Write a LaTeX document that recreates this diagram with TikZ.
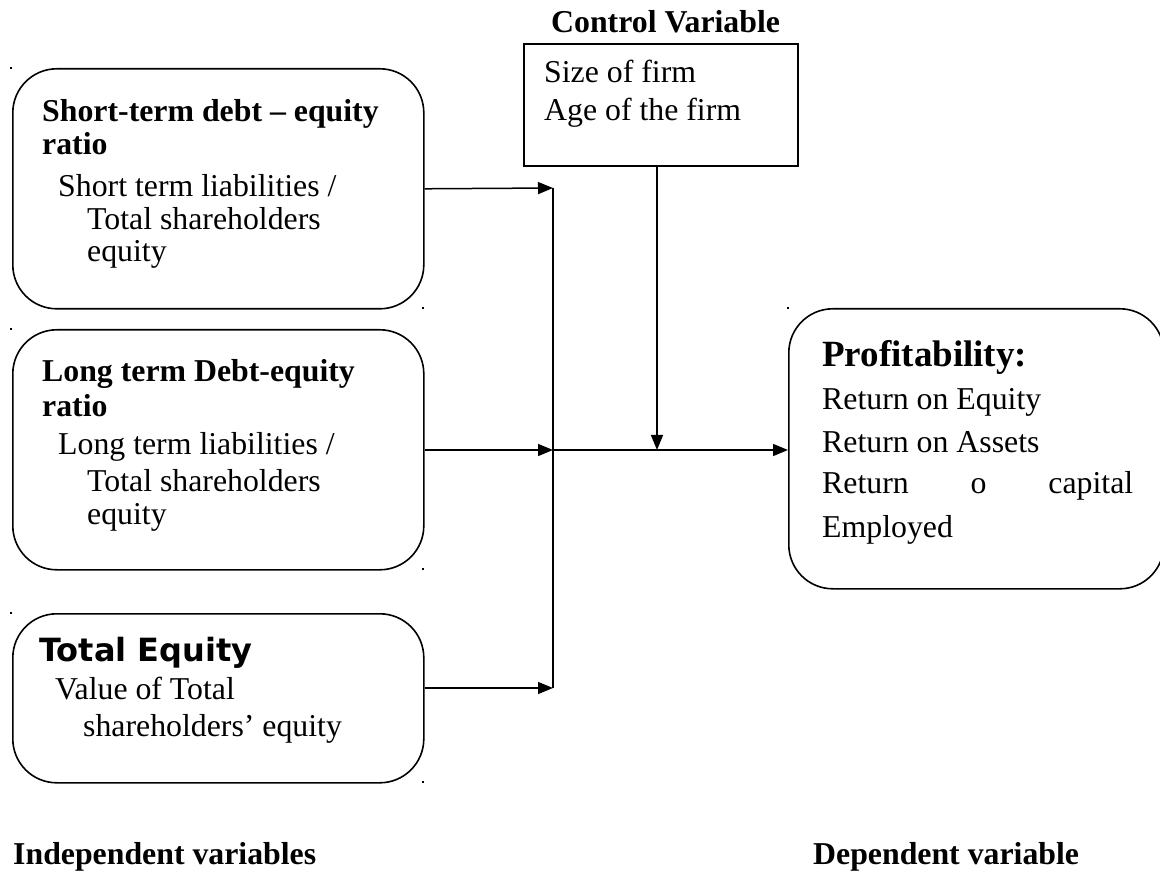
\documentclass[tikz,border=0pt]{standalone}
\usepackage{fontspec}
\setmainfont{Liberation Serif}
\newfontfamily\djv{DejaVu Sans}
\usetikzlibrary{arrows.meta}
\begin{document}
\begin{tikzpicture}[x=1pt,y=-1pt,
  box/.style={draw, line width=1.6pt, rounded corners=44pt, anchor=north west, inner sep=0pt},
  sqbox/.style={draw, line width=1.6pt, anchor=north west, inner sep=0pt},
  txt/.style={anchor=base west, inner sep=0pt, font=\fontsize{31.8}{33}\selectfont},
  hd/.style={anchor=base west, inner sep=0pt, font=\fontsize{31.8}{33}\selectfont\bfseries},
  arr/.style={line width=1.5pt, -{Triangle[length=15pt,width=12pt]}},
  ln/.style={line width=1.5pt}]
\useasboundingbox (0,0) rectangle (1160,874);
\clip (0,0) rectangle (1160,874);

% boxes
\node[box, minimum width=411pt, minimum height=240pt] (b1) at (12,68) {};
\node[box, minimum width=411pt, minimum height=240pt] (b2) at (12,329) {};
\node[box, minimum width=411pt, minimum height=169pt] (b3) at (12,613) {};
\node[sqbox, minimum width=274pt, minimum height=122pt] (ctrl) at (523,43) {};
\node[box, minimum width=375pt, minimum height=280pt] (pr) at (788,308) {};

% tiny marks
\foreach \p in {(11,68),(423,308),(11,329),(423,569),(11,613),(423,782),(788,308)}
  \fill \p ++(-1,-1) rectangle ++(2,2);

% box 1 text
\node[hd] (t11) at (42,122) {Short-term debt -- equity};
\node[hd] (t12) at (42,155) {ratio};
\node[txt] (t13) at (58,197) {Short term liabilities /};
\node[txt] (t14) at (87,230) {Total shareholders};
\node[txt] (t15) at (87,262) {equity};

% box 2 text
\node[hd] (t21) at (42,382) {Long term Debt-equity};
\node[hd] (t22) at (42,417) {ratio};
\node[txt] (t23) at (58,455) {Long term liabilities /};
\node[txt] (t24) at (87,492) {Total shareholders};
\node[txt] (t25) at (87,525) {equity};

% box 3 text
\node[anchor=base west, inner sep=0pt, font=\fontsize{32}{33}\selectfont\djv\bfseries] (t31) at (39,661) {Total Equity};
\node[txt] (t32) at (55,699) {Value of Total};
\node[txt] (t33) at (83,736) {shareholders’ equity};

% control
\node[hd] (tc0) at (551,33) {Control Variable};
\node[txt] (tc1) at (544,83) {Size of firm};
\node[txt] (tc2) at (544,121) {Age of the firm};

% profitability
\node[anchor=base west, inner sep=0pt, font=\fontsize{37}{40}\selectfont\bfseries] (tp0) at (822,367) {Profitability:};
\node[txt] (tp1) at (822,410) {Return on Equity};
\node[txt] (tp2) at (822,453) {Return on Assets};
\node[txt] (tp3) at (822,494) {\hbox to 311pt{Return\hfill o\hfill capital}};
\node[txt] (tp4) at (822,537) {Employed};

% bottom labels
\node[hd] (li) at (13,864) {Independent variables};
\node[hd] (ld) at (813,864) {Dependent variable};

% connectors
\coordinate (j1) at (553,188);
\coordinate (j2) at (553,450);
\coordinate (j3) at (553,688);
\coordinate (c2) at (657,450);
\draw[arr] (b1.east) -- (j1);
\draw[arr] (b2.east |- j2) -- (j2);
\draw[arr] (b3.east |- j3) -- (j3);
\draw[ln] (j1) -- (j3);
\draw[arr] (j2) -- (pr.west |- j2);
\draw[arr] (ctrl.south -| c2) -- (c2);
\end{tikzpicture}
\end{document}
